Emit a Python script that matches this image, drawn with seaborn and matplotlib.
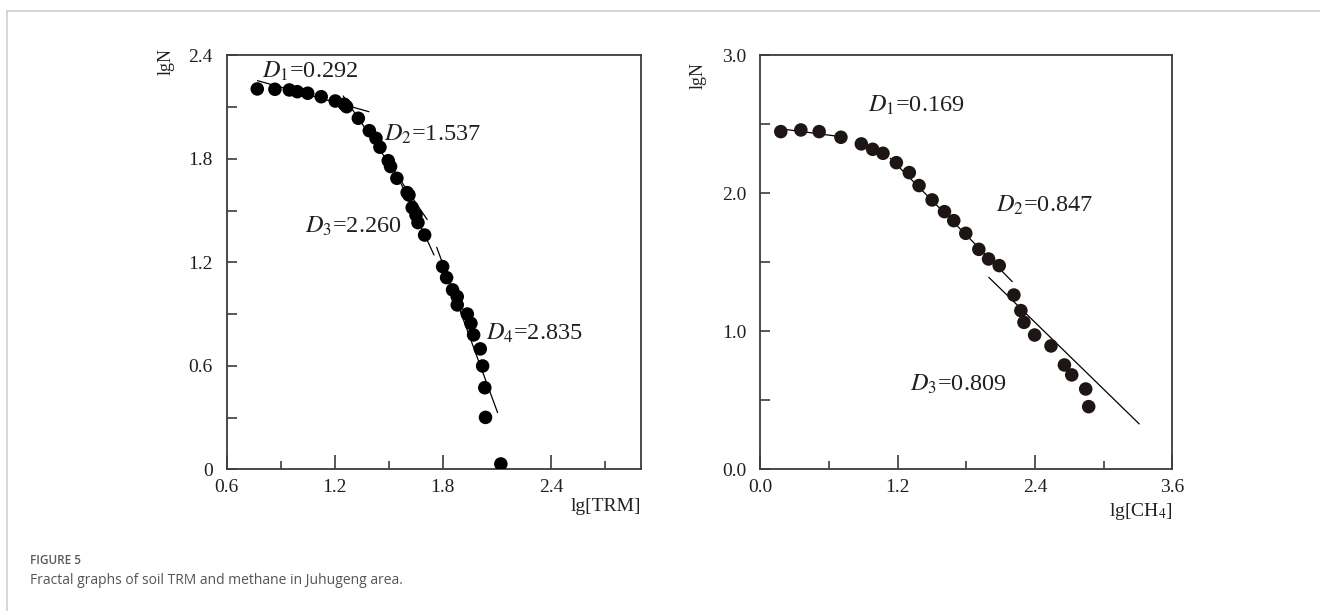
import numpy as np
import pandas as pd
import matplotlib.pyplot as plt
import seaborn as sns
from matplotlib.lines import Line2D
from matplotlib.ticker import FixedLocator

# left panel: soil TRM
trm_x = [0.770, 0.868, 0.948, 0.992, 1.050, 1.125, 1.203, 1.253, 1.266, 1.331,
         1.392, 1.429, 1.451, 1.497, 1.510, 1.545, 1.602, 1.612, 1.630, 1.651,
         1.662, 1.699, 1.799, 1.821, 1.854, 1.880, 1.880, 1.936, 1.956, 1.971,
         2.008, 2.021, 2.033, 2.037, 2.122]
trm_y = [2.205, 2.203, 2.199, 2.189, 2.180, 2.160, 2.135, 2.116, 2.102, 2.035,
         1.963, 1.919, 1.867, 1.789, 1.755, 1.687, 1.604, 1.590, 1.517, 1.474,
         1.430, 1.358, 1.175, 1.111, 1.040, 1.001, 0.953, 0.900, 0.846, 0.779,
         0.698, 0.599, 0.473, 0.301, 0.031]
trm_dims = ["0.292", "1.537", "2.260", "2.835"]
trm_fit_x0 = [0.771, 1.247, 1.570, 1.766]
trm_fit_x1 = [1.390, 1.713, 1.751, 2.104]
trm_fit_y0 = [2.253, 2.164, 1.652, 1.287]
trm_fit_y1 = [2.073, 1.448, 1.2425, 0.329]
trm_lab_x = [0.794, 1.473, 1.035, 2.039]
trm_lab_y = [2.305, 1.942, 1.407, 0.788]

# right panel: methane
ch4_x = [0.181, 0.356, 0.516, 0.706, 0.884, 0.983, 1.073, 1.190, 1.303, 1.388,
         1.502, 1.610, 1.691, 1.796, 1.910, 1.995, 2.088, 2.216, 2.277, 2.304,
         2.397, 2.540, 2.657, 2.721, 2.843, 2.869]
ch4_y = [2.447, 2.459, 2.447, 2.406, 2.358, 2.319, 2.290, 2.222, 2.150, 2.056,
         1.952, 1.867, 1.802, 1.710, 1.594, 1.524, 1.476, 1.263, 1.150, 1.065,
         0.973, 0.894, 0.756, 0.684, 0.582, 0.454]
ch4_dims = ["0.169", "0.847", "0.809"]
ch4_fit_x0 = [0.146, 1.137, 1.997]
ch4_fit_x1 = [0.744, 2.202, 3.310]
ch4_fit_y0 = [2.471, 2.254, 1.391]
ch4_fit_y1 = [2.406, 1.360, 0.329]
ch4_lab_x = [0.939, 2.056, 1.312]
ch4_lab_y = [2.640, 1.911, 0.616]

sns.set_theme(style="white")
plt.rcParams["font.family"] = ["Liberation Serif", "DejaVu Serif"]
plt.rcParams["mathtext.fontset"] = "stix"

fig = plt.figure(figsize=(13.2, 6.11), dpi=100)
ax1 = fig.add_axes([0.1717, 0.2319, 0.3139, 0.6776])
ax2 = fig.add_axes([0.5758, 0.2319, 0.3124, 0.6776])

spine_col = "#3c3c3c"
txt_col = "#231f20"


def fit_frame(x0, x1, y0, y1):
    rows = []
    for i in range(len(x0)):
        rows.append({"seg": i, "x": x0[i], "y": y0[i]})
        rows.append({"seg": i, "x": x1[i], "y": y1[i]})
    return pd.DataFrame(rows)


def panel(ax, xs, ys, color, fits, dims, lab_x, lab_y):
    sns.lineplot(data=fits, x="x", y="y", units="seg", estimator=None,
                 color="black", lw=0.9, ax=ax, zorder=2)
    sns.scatterplot(x=xs, y=ys, s=95, color=color, edgecolor="none",
                    ax=ax, zorder=3)
    for i, d in enumerate(dims):
        ax.text(lab_x[i], lab_y[i], r"$D_{%d}$=%s" % (i + 1, d),
                fontsize=17.5, color=txt_col, va="center", ha="left")
    for s in ax.spines.values():
        s.set_color(spine_col)
        s.set_linewidth(1.3)
    ax.tick_params(axis="both", which="both", direction="in", colors=spine_col,
                   labelcolor=txt_col, labelsize=14, width=1.2,
                   bottom=True, left=True, top=False, right=False)
    ax.tick_params(axis="x", which="major", length=10, pad=7)
    ax.tick_params(axis="x", which="minor", length=6)
    ax.tick_params(axis="y", which="major", length=7, pad=10)
    ax.tick_params(axis="y", which="minor", length=7)
    ax.set_xlabel("")
    ax.set_ylabel("")


panel(ax1, trm_x, trm_y, "black",
      fit_frame(trm_fit_x0, trm_fit_x1, trm_fit_y0, trm_fit_y1),
      trm_dims, trm_lab_x, trm_lab_y)
ax1.set_xlim(0.6, 2.9)
ax1.set_ylim(0, 2.4)
ax1.xaxis.set_major_locator(FixedLocator([0.6, 1.2, 1.8, 2.4]))
ax1.xaxis.set_minor_locator(FixedLocator([0.9, 1.5, 2.1, 2.7]))
ax1.set_xticklabels(["0.6", "1.2", "1.8", "2.4"])
ax1.yaxis.set_major_locator(FixedLocator([0, 0.6, 1.2, 1.8, 2.4]))
ax1.yaxis.set_minor_locator(FixedLocator([0.3, 0.9, 1.5, 2.1]))
ax1.set_yticklabels(["0", "0.6", "1.2", "1.8", "2.4"])
ax1.text(1.0, -0.091, "lg[TRM]", transform=ax1.transAxes, ha="right",
         va="center", fontsize=14, color=txt_col)
ax1.text(-0.1465, 0.986, "lgN", transform=ax1.transAxes, ha="center",
         va="center", rotation=90, fontsize=13, color=txt_col)

panel(ax2, ch4_x, ch4_y, "#1e1614",
      fit_frame(ch4_fit_x0, ch4_fit_x1, ch4_fit_y0, ch4_fit_y1),
      ch4_dims, ch4_lab_x, ch4_lab_y)
ax2.set_xlim(0, 3.6)
ax2.set_ylim(0, 3.0)
ax2.xaxis.set_major_locator(FixedLocator([0.0, 1.2, 2.4, 3.6]))
ax2.xaxis.set_minor_locator(FixedLocator([0.6, 1.8, 3.0]))
ax2.set_xticklabels(["0.0", "1.2", "2.4", "3.6"])
ax2.yaxis.set_major_locator(FixedLocator([0.0, 1.0, 2.0, 3.0]))
ax2.yaxis.set_minor_locator(FixedLocator([0.5, 1.5, 2.5]))
ax2.set_yticklabels(["0.0", "1.0", "2.0", "3.0"])
ax2.text(1.0, -0.103, r"lg[CH$_4$]", transform=ax2.transAxes, ha="right",
         va="center", fontsize=14, color=txt_col)
ax2.text(-0.150, 0.950, "lgN", transform=ax2.transAxes, ha="center",
         va="center", rotation=90, fontsize=13, color=txt_col)

# card border and caption
bx = 7 / 1320
by = 1 - 11 / 611
fig.add_artist(Line2D([bx, 1], [by, by], transform=fig.transFigure,
                      color="#cfcfcf", lw=1.2))
fig.add_artist(Line2D([bx, bx], [0, by], transform=fig.transFigure,
                      color="#cfcfcf", lw=1.2))
fig.text(30 / 1320, 1 - 560 / 611, "FIGURE 5", fontsize=8.5,
         family=["Open Sans", "DejaVu Sans"], color="#5a5a5a",
         fontweight="semibold", va="center", ha="left")
fig.text(30 / 1320, 1 - 580 / 611,
         "Fractal graphs of soil TRM and methane in Juhugeng area.",
         fontsize=10, family=["Open Sans", "DejaVu Sans"], color="#555555",
         va="center", ha="left")

fig.savefig("out.png", dpi=100)
